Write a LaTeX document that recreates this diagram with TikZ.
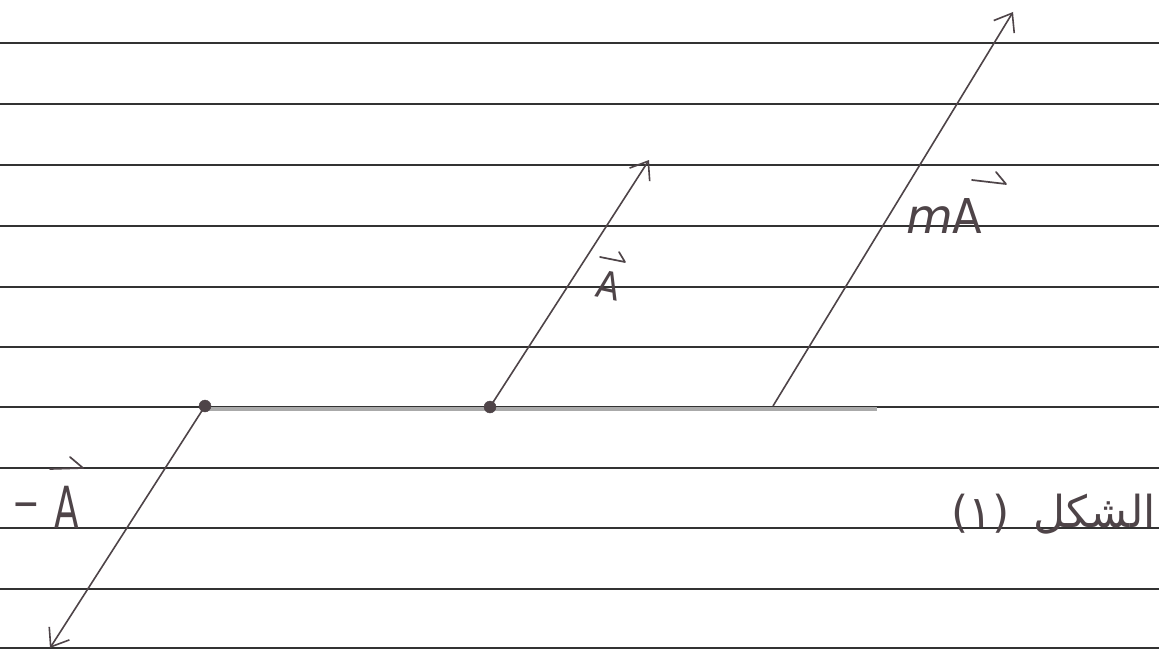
\documentclass[tikz,border=0pt]{standalone}
\usepackage{fontspec}
\setmainfont{DejaVu Sans}
\newfontfamily\arabicfont[Script=Arabic]{DejaVu Sans}
\TeXXeTstate=1
\usetikzlibrary{arrows.meta}
\definecolor{ink}{RGB}{78,68,72}
\definecolor{rule}{RGB}{50,50,50}
\definecolor{pencil}{RGB}{170,170,170}
\tikzset{
  ruled/.style={draw=rule, line width=1.6pt},
  vec/.style={draw=ink, line width=1.6pt, -{Straight Barb[length=16pt,width=24pt,line width=1.6pt]}},
  base/.style={draw=pencil, line width=3.6pt},
  tail/.style={circle, fill=ink, draw=ink, inner sep=0pt, minimum size=12pt},
  lbl/.style={text=ink, inner sep=0pt},
  accent/.style={draw=ink, line width=1.7pt, line cap=round, line join=round},
}
\begin{document}
\begin{tikzpicture}[x=1pt,y=-1pt]
\useasboundingbox (0,0) rectangle (1159,650);
\fill[white] (0,0) rectangle (1159,650);
% ruled paper lines
\foreach \yy in {43,104,165,226,287,347,407,468,528,589,648}
  \draw[ruled] (0,\yy) -- (1159,\yy);
% pencil base line
\coordinate (b0) at (205,409);
\coordinate (b1) at (877,409);
\draw[base] (b0) -- (b1);
% tails
\node[tail] (o1) at (205,406) {};
\node[tail] (o2) at (490,407) {};
\coordinate (o3) at (773,406);
% heads
\coordinate (hneg) at (50,648);
\coordinate (hA) at (649,160);
\coordinate (hmA) at (1013,12);
\draw[vec] (o1.center) -- (hneg);
\draw[vec] (o2.center) -- (hA);
\draw[vec] (o3) -- (hmA);
% labels
\node[lbl, font=\fontsize{44}{44}\selectfont] (minus) at (26,511) {\scalebox{0.75}[1]{−}};
\node[lbl, font=\fontsize{58}{58}\selectfont, anchor=base] (negA) at (67,528) {\scalebox{0.62}[1]{A}};
\draw[accent] (50,469) -- (83,468) -- (70,457);
\node[lbl, font=\fontsize{38}{38}\selectfont, anchor=base, rotate=-12] (lA) at (606,299) {\scalebox{0.9}[1]{A}};
\draw[accent] (600,257) -- (625,262) -- (619,252);
\node[lbl, font=\fontsize{48}{48}\selectfont, anchor=base west] (lmA) at (906,233) {\textit{m}\scalebox{0.9}[1]{A}};
\draw[accent] (972,180) -- (1006,184) -- (996,172);
\node[lbl, font=\fontsize{44}{44}\selectfont, anchor=base east] (fig) at (1156,527) {\arabicfont\beginR الشكل\hspace{24pt}(١)\endR};
\end{tikzpicture}
\end{document}
